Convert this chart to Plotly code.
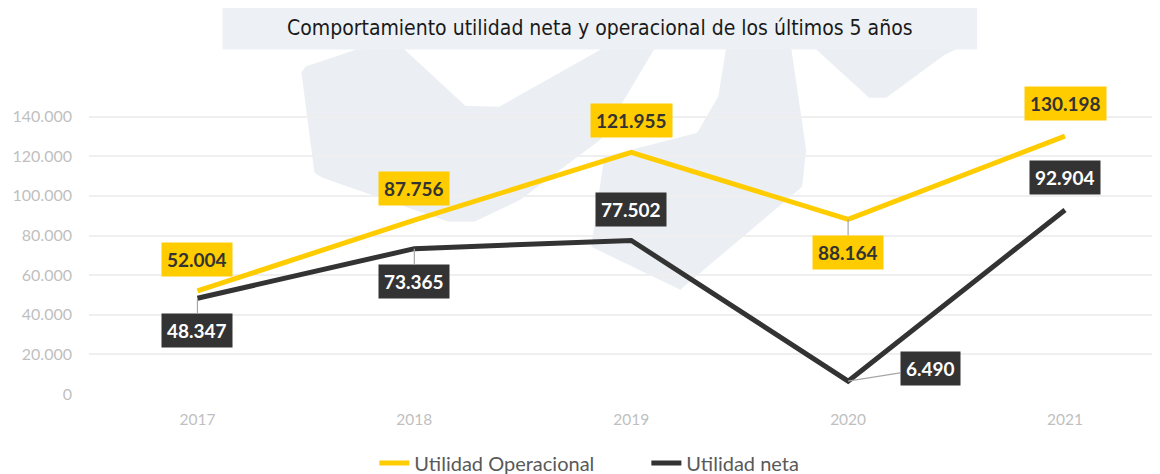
import plotly.graph_objects as go

# datos
anios = ['2017', '2018', '2019', '2020', '2021']
utilidad_operacional = [52004, 87756, 121955, 88164, 130198]
utilidad_neta = [48347, 73365, 77502, 6490, 92904]
y_ticks = [0, 20000, 40000, 60000, 80000, 100000, 120000, 140000]

# posicion de las etiquetas (offset en px respecto al punto) y si llevan linea guia
pos_operacional = [(0, -31, False), (0, -32, False), (0, -32, False), (0, 33, True), (0, -33, False)]
pos_neta = [(0, 32, True), (0, 33, True), (0, -31, False), (82, -13, True), (0, -32, False)]

AMARILLO = '#FFCC00'
OSCURO = '#333333'

# la pagina deja 8px de margen alrededor de la figura
OFF = 8
W, H = 1160 - OFF, 474 - OFF


def fmt(v):
    return f'{v:,}'.replace(',', '.')


fig = go.Figure()

fig.add_trace(go.Scatter(
    x=anios, y=utilidad_operacional, mode='lines', name='Utilidad Operacional',
    line=dict(color=AMARILLO, width=5)
))
fig.add_trace(go.Scatter(
    x=anios, y=utilidad_neta, mode='lines', name='Utilidad neta',
    line=dict(color=OSCURO, width=5)
))

anotaciones = []
for serie, posiciones, fondo, color_txt in [
    (utilidad_operacional, pos_operacional, AMARILLO, '#333333'),
    (utilidad_neta, pos_neta, OSCURO, 'white'),
]:
    for i, (val, (ax, ay, guia)) in enumerate(zip(serie, posiciones)):
        anotaciones.append(dict(
            x=i, y=val, xref='x', yref='y', text=fmt(val),
            showarrow=True, ax=ax, ay=ay, arrowhead=0, arrowwidth=1.2,
            arrowcolor='#A6A6A6' if guia else 'rgba(0,0,0,0)',
            bgcolor=fondo, borderpad=5,
            font=dict(family='Lato', size=19, color=color_txt, weight='bold'),
        ))

# ---- marca de agua y caja del titulo (coordenadas de pixel de la pagina -> paper)
L, R, T, B = 88.5, 1160, 77.4, 394


def px(x, y):
    return (x - L) / (R - L), (B - y) / (B - T)


def path(puntos):
    p = [px(x, y) for x, y in puntos]
    return 'M ' + ' L '.join(f'{a:.4f},{b:.4f}' for a, b in p) + ' Z'


marca = [
    [(305, 67), (356, 50), (402, 48), (465, 106), (499, 107), (604, 48), (655, 48),
     (600, 140), (520, 200), (474, 222), (448, 222), (322, 178), (314, 173), (301, 73)],
    [(726, 48), (718, 97), (697, 133), (604, 157), (591, 247), (680, 290),
     (802, 187), (806, 150), (791, 48)],
    [(814, 48), (869, 98), (886, 98), (945, 55), (960, 48)],
]
formas = [dict(type='path', path=path(m), xref='paper', yref='paper', layer='below',
               fillcolor='#EBEFF4', line=dict(width=0)) for m in marca]

x0, y1 = px(222, 5)
x1, y0 = px(977, 50)
formas.append(dict(type='rect', xref='paper', yref='paper', x0=x0, x1=x1, y0=y0, y1=y1,
                   fillcolor='#EDF1F5', line=dict(width=0), layer='below'))

tx, ty = px(599.5, 28)
anotaciones.append(dict(
    x=tx, y=ty, xref='paper', yref='paper', showarrow=False,
    xanchor='center', yanchor='middle',
    text='Comportamiento utilidad neta y operacional de los últimos 5 años',
    font=dict(family='DejaVu Sans Condensed', size=21, color='#1A1A1A'),
))

lx, _ = px(374, 0)
fig.update_layout(
    width=W, height=H,
    margin=dict(l=L - OFF, r=0, t=T - OFF, b=474 - B, autoexpand=False),
    paper_bgcolor='white', plot_bgcolor='rgba(0,0,0,0)',
    separators=',.',
    showlegend=True,
    legend=dict(orientation='h', x=lx, xanchor='left',
                yref='container', y=(474 - 463) / H, yanchor='middle',
                entrywidth=227, entrywidthmode='pixels',
                font=dict(family='Lato', size=20, color='#595959'),
                traceorder='normal'),
    xaxis=dict(type='category', range=[-0.5, 4.438], showgrid=False, zeroline=False,
               showline=False, automargin=False,
               ticks='', tickfont=dict(family='Lato', size=15.5, color='#BFBFBF'),
               ticklabelstandoff=14),
    yaxis=dict(range=[0, 160000], tickvals=y_ticks, tickformat=',.0f', automargin=False,
               showgrid=True, gridcolor='#EFEFEF', gridwidth=1.5, zeroline=False,
               tickfont=dict(family='Lato', size=16, color='#BFBFBF'),
               ticklabelstandoff=16),
    shapes=formas,
    annotations=anotaciones,
)

fig.write_html('out.html')
